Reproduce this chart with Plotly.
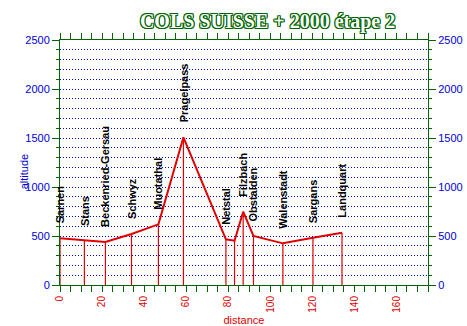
import plotly.graph_objects as go

# Stage profile: place, distance from start (km), altitude (m)
places = ["Sarnen", "Stans", "Beckenried-Gersau", "Schwyz", "Muotathal",
          "Pragelpass", "Netstal", "", "Filzbach", "Obstalden",
          "Walenstadt", "Sargans", "Landquart"]
distance_km = [0, 11.6, 21.6, 34, 46.8, 58.7, 78.9, 83, 87.1, 92, 106, 120.3, 134.1]
altitude_m = [476, 452, 439, 520, 619, 1507, 466, 452, 748, 500, 425, 483, 534]

x_ticks = [0, 20, 40, 60, 80, 100, 120, 140, 160]
y_ticks = [0, 500, 1000, 1500, 2000, 2500]

GREEN = "#006400"
BLUE = "#0000dd"
RED = "#e00000"
NAVY = "#0000b0"

# vertical drop lines from the axis up to each point
drop_x, drop_y = [], []
for d, a in zip(distance_km, altitude_m):
    drop_x += [d, d, None]
    drop_y += [0, a, None]

fig = go.Figure()
fig.add_trace(go.Scatter(x=drop_x, y=drop_y, mode="lines",
                         line=dict(color=RED, width=1.2), hoverinfo="skip",
                         showlegend=False))
fig.add_trace(go.Scatter(x=distance_km, y=altitude_m, mode="lines",
                         line=dict(color=RED, width=2), showlegend=False))
# invisible trace to activate the right-hand altitude axis
fig.add_trace(go.Scatter(x=[distance_km[0]], y=[altitude_m[0]], yaxis="y2",
                         mode="markers", marker=dict(opacity=0),
                         hoverinfo="skip", showlegend=False))

for name, d, a in zip(places, distance_km, altitude_m):
    if not name:
        continue
    fig.add_annotation(x=d, y=a, text=name, showarrow=False, textangle=-90,
                       xanchor="center", yanchor="bottom", yshift=13,
                       font=dict(family="Liberation Sans", size=11,
                                 color="black", weight="bold"))

fig.add_annotation(text="altitude", xref="paper", yref="paper",
                   x=-0.121, y=0.462, textangle=-90, showarrow=False,
                   font=dict(family="Liberation Sans", size=11, color=BLUE))

axis_common = dict(showline=True, linecolor=GREEN, linewidth=1,
                   ticks="outside", tickcolor=GREEN, tickwidth=1, ticklen=7,
                   zeroline=False, automargin=False)

fig.update_layout(
    width=467, height=326,
    margin=dict(l=59.5, r=38.7, t=40, b=41, autoexpand=False),
    paper_bgcolor="white", plot_bgcolor="white",
    title=dict(text="COLS SUISSE + 2000 étape 2", xref="container",
               yref="container", x=0.573, y=0.935, xanchor="center",
               yanchor="middle",
               font=dict(family="Liberation Serif", size=20, color="white",
                         weight="bold",
                         shadow="1px 0 0 #006400, -1px 0 0 #006400, "
                                "0 1px 0 #006400, 0 -1px 0 #006400, "
                                "1px 1px 0 #006400, -1px -1px 0 #006400, "
                                "1px -1px 0 #006400, -1px 1px 0 #006400")),
    xaxis=dict(range=[0, 175], tickvals=x_ticks, ticktext=[str(v) for v in x_ticks],
               tickangle=-90, mirror="allticks", showgrid=False,
               ticklen=6,
               minor=dict(dtick=5, tick0=0, ticks="outside", ticklen=3,
                          tickcolor=GREEN, showgrid=False),
               tickfont=dict(family="Liberation Sans", size=10, color=RED),
               title=dict(text="distance", standoff=6,
                          font=dict(family="Liberation Sans", size=11, color=RED)),
               **{k: v for k, v in axis_common.items() if k != "ticklen"}),
    yaxis=dict(range=[0, 2500], tickvals=y_ticks, showgrid=True,
               gridcolor=NAVY, griddash="1px,2px", gridwidth=1,
               minor=dict(dtick=100, tick0=0, ticks="outside", ticklen=3,
                          tickcolor=GREEN, showgrid=True, gridcolor=NAVY,
                          griddash="1px,2px", gridwidth=1),
               tickfont=dict(family="Liberation Sans", size=11, color=BLUE),
               **axis_common),
    yaxis2=dict(range=[0, 2500], tickvals=y_ticks, overlaying="y", side="right",
                showgrid=False,
                minor=dict(dtick=100, tick0=0, ticks="outside", ticklen=3,
                           tickcolor=GREEN),
                tickfont=dict(family="Liberation Sans", size=11, color=BLUE),
                **axis_common),
)

fig.write_html("out.html")
